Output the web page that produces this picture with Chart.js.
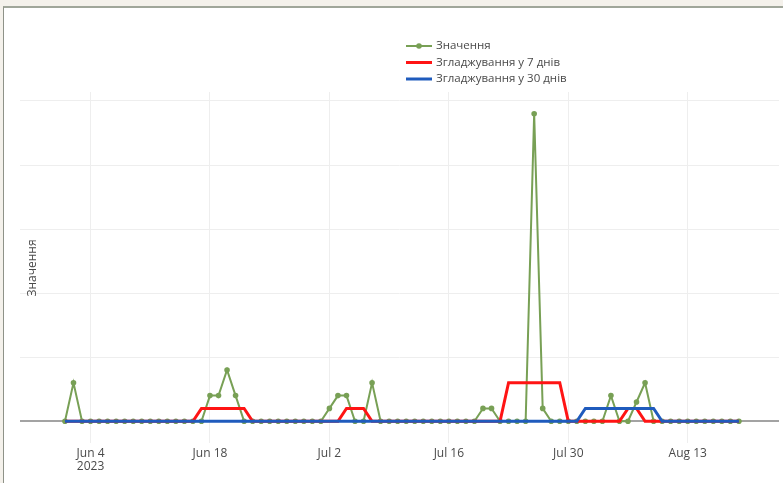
<!DOCTYPE html>
<html>
<head>
<meta charset="utf-8">
<script src="https://cdn.jsdelivr.net/npm/chart.js@4"></script>
<style>
  body { margin: 0; background: #f4f1eb; }
  #panel { position: absolute; left: 3px; top: 6px; width: 780px; height: 477px;
           background: #fff; border-top: 2px solid #a0a69a; border-left: 1px solid #8e9288; }
  #chart1 { position: absolute; left: 0; top: 0; }
</style>
</head>
<body>
<div id="panel"></div>
<canvas id="chart1" width="783" height="483"></canvas>
<script>
// daily values starting Jun 1 2023
var values = [
    0, 3, 0, 0, 0, 0, 0, 0, 0, 0,
    0, 0, 0, 0, 0, 0, 0, 2, 2, 4,
    2, 0, 0, 0, 0, 0, 0, 0, 0, 0,
    0, 1, 2, 2, 0, 0, 3, 0, 0, 0,
    0, 0, 0, 0, 0, 0, 0, 0, 0, 1,
    1, 0, 0, 0, 0, 24, 1, 0, 0, 0,
    0, 0, 0, 0, 2, 0, 0, 1.5, 3, 0,
    0, 0, 0, 0, 0, 0, 0, 0, 0, 0
];
var smooth7 = [
    0, 0, 0, 0, 0, 0, 0, 0, 0, 0,
    0, 0, 0, 0, 0, 0, 1, 1, 1, 1,
    1, 1, 0, 0, 0, 0, 0, 0, 0, 0,
    0, 0, 0, 1, 1, 1, 0, 0, 0, 0,
    0, 0, 0, 0, 0, 0, 0, 0, 0, 0,
    0, 0, 3, 3, 3, 3, 3, 3, 3, 0,
    0, 0, 0, 0, 0, 0, 1, 1, 0, 0,
    0, 0, 0, 0, 0, 0, 0, 0, 0, 0
];
var smooth30 = [
    0, 0, 0, 0, 0, 0, 0, 0, 0, 0,
    0, 0, 0, 0, 0, 0, 0, 0, 0, 0,
    0, 0, 0, 0, 0, 0, 0, 0, 0, 0,
    0, 0, 0, 0, 0, 0, 0, 0, 0, 0,
    0, 0, 0, 0, 0, 0, 0, 0, 0, 0,
    0, 0, 0, 0, 0, 0, 0, 0, 0, 0,
    0, 1, 1, 1, 1, 1, 1, 1, 1, 1,
    0, 0, 0, 0, 0, 0, 0, 0, 0, 0
];
var tickDays = [3, 17, 31, 45, 59, 73];   // days after Jun 1
var tickLabels = [['Jun 4', '2023'], 'Jun 18', 'Jul 2', 'Jul 16', 'Jul 30', 'Aug 13'];
var seriesNames = ['Значення', 'Згладжування у 7 днів', 'Згладжування у 30 днів'];
var colors = ['#78a055', '#ff1414', '#1f5bbd'];
var yTitle = 'Значення';

var days = values.map(function (v, i) { return i; });

// legend + axis title drawn on the canvas
var extras = {
    id: 'extras',
    afterDraw: function (chart) {
        var ctx = chart.ctx;
        ctx.save();
        ctx.font = '11.5px "Open Sans"';
        ctx.textBaseline = 'middle';
        for (var k = 0; k < seriesNames.length; k++) {
            var y = 46 + k * 16.5;
            ctx.strokeStyle = colors[k];
            ctx.lineWidth = k == 0 ? 2 : 3;
            ctx.beginPath();
            ctx.moveTo(406, y);
            ctx.lineTo(432, y);
            ctx.stroke();
            if (k == 0) {
                ctx.fillStyle = colors[0];
                ctx.beginPath();
                ctx.arc(419, y, 2.8, 0, Math.PI * 2);
                ctx.fill();
            }
            ctx.fillStyle = '#4a4a4a';
            ctx.fillText(seriesNames[k], 436, y);
        }
        ctx.translate(33, 268);
        ctx.rotate(-Math.PI / 2);
        ctx.font = '12px "Open Sans"';
        ctx.textAlign = 'center';
        ctx.fillText(yTitle, 0, 0);
        ctx.restore();
    }
};

var chart1 = new Chart(document.getElementById('chart1'), {
    type: 'line',
    data: {
        labels: days,
        datasets: [
            {
                label: seriesNames[0],
                data: values,
                borderColor: colors[0],
                backgroundColor: colors[0],
                borderWidth: 2,
                pointRadius: 2.8,
                pointBorderWidth: 0,
                order: 3
            },
            {
                label: seriesNames[1],
                data: smooth7,
                borderColor: colors[1],
                borderWidth: 3,
                pointRadius: 0,
                order: 2
            },
            {
                label: seriesNames[2],
                data: smooth30,
                borderColor: colors[2],
                borderWidth: 3,
                pointRadius: 0,
                order: 1
            }
        ]
    },
    options: {
        responsive: false,
        animation: false,
        layout: { padding: { left: 20, right: 3, top: 92, bottom: 0 } },
        plugins: { legend: { display: false }, tooltip: { enabled: false } },
        scales: {
            x: {
                type: 'linear',
                min: -5.27,
                max: 83.7,
                afterBuildTicks: function (scale) {
                    scale.ticks = tickDays.map(function (d) { return { value: d }; });
                },
                afterFit: function (scale) { scale.height = 40; },
                ticks: {
                    padding: 4,
                    color: '#4a4a4a',
                    font: { family: 'Open Sans', size: 12, lineHeight: 1.1 },
                    maxRotation: 0,
                    callback: function (v) { return tickLabels[tickDays.indexOf(v)]; }
                },
                grid: { color: '#eeeeee', drawTicks: false },
                border: { display: false }
            },
            y: {
                min: -1.7,
                max: 25.7,
                afterBuildTicks: function (scale) {
                    scale.ticks = [0, 5, 10, 15, 20, 25].map(function (v) { return { value: v }; });
                },
                afterFit: function (scale) { scale.width = 0; },
                ticks: { display: false },
                grid: {
                    drawTicks: false,
                    color: function (c) { return c.tick && c.tick.value === 0 ? '#a3a3a3' : '#eeeeee'; },
                    lineWidth: function (c) { return c.tick && c.tick.value === 0 ? 2 : 1; }
                },
                border: { display: false }
            }
        }
    },
    plugins: [extras]
});
</script>
</body>
</html>
